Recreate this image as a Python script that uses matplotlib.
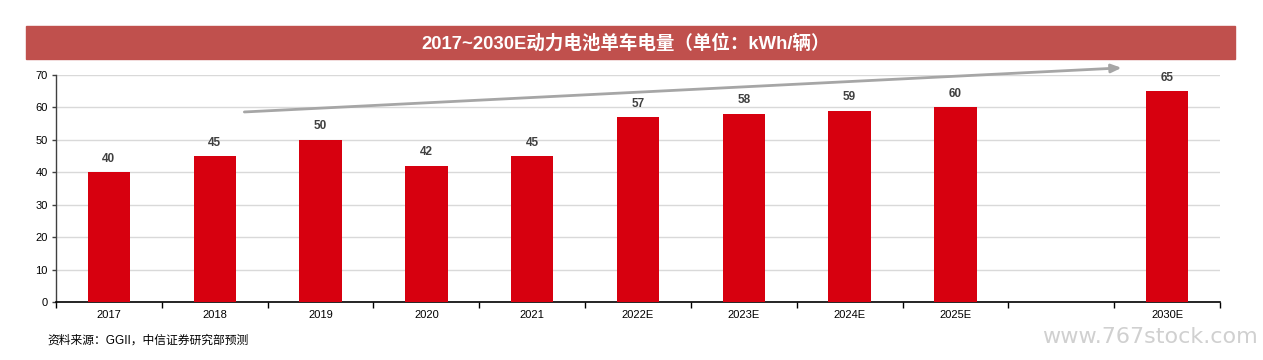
import matplotlib
matplotlib.use('Agg')
import matplotlib.pyplot as plt
from matplotlib.patches import Rectangle

plt.rcParams['font.family'] = ['Liberation Sans', 'Noto Sans CJK SC', 'DejaVu Sans']

# data, with an empty slot between 2025E and 2030E
years = ['2017', '2018', '2019', '2020', '2021', '2022E', '2023E', '2024E', '2025E', '', '2030E']
kwh = [40, 45, 50, 42, 45, 57, 58, 59, 60, None, 65]
yticks = [0, 10, 20, 30, 40, 50, 60, 70]

title = '2017~2030E动力电池单车电量（单位：kWh/辆）'
source = '资料来源：GGII，中信证券研究部预测'

bar_color = '#D7000F'
banner_color = '#C0504D'
arrow_color = '#A6A6A6'

fig = plt.figure(figsize=(12.63, 3.6), dpi=100)
ax = fig.add_axes([56 / 1263, 58 / 360, 1164 / 1263, 227 / 360])

xs = list(range(len(years)))
for x, v in zip(xs, kwh):
    if v is None:
        continue
    ax.bar(x, v, width=0.4, color=bar_color, zorder=3)
    ax.text(x, v + 2.3, str(v), ha='center', va='bottom', fontsize=8.5,
            fontweight='bold', color='#404040', zorder=4)

ax.set_xlim(-0.5, len(years) - 0.5)
ax.set_ylim(0, 70)
ax.set_yticks(yticks)
ax.set_yticklabels([str(t) for t in yticks], fontsize=8, color='#000000')
ax.set_xticks(xs)
ax.set_xticklabels(years, fontsize=8, color='#000000')
ax.tick_params(axis='x', length=0, pad=6)
ax.set_xticks([i - 0.5 for i in range(len(years) + 1)], minor=True)
ax.tick_params(axis='x', which='minor', length=4, width=1, color='#000000', direction='out')
ax.tick_params(axis='y', length=3, width=1, color='#404040', pad=3)

ax.grid(axis='y', color='#D9D9D9', linewidth=1, zorder=0)
for s in ['top', 'right']:
    ax.spines[s].set_visible(False)
ax.spines['left'].set_color('#404040')
ax.spines['left'].set_linewidth(1)
ax.spines['bottom'].set_color('#000000')
ax.spines['bottom'].set_linewidth(1.2)

# trend arrow
ax.annotate('', xy=(9.57, 72.2), xytext=(1.28, 58.6), annotation_clip=False,
            arrowprops=dict(arrowstyle='-|>,head_length=0.6,head_width=0.25',
                            color=arrow_color, lw=2, shrinkA=0, shrinkB=0))

# title banner
fig.patches.append(Rectangle((26 / 1263, 1 - 59 / 360), 1209 / 1263, 33 / 360,
                             transform=fig.transFigure, color=banner_color, zorder=0))
fig.text(626 / 1263, 1 - 43 / 360, title, ha='center', va='center', fontsize=13.3,
         fontweight='bold', color='white')

fig.text(47 / 1263, 1 - 341 / 360, source, ha='left', va='center', fontsize=8.5,
         color='#000000')
fig.text(1258 / 1263, 1 - 337 / 360, 'www.767stock.com', ha='right', va='center',
         fontsize=16, color='#D0D0D0', family=['DejaVu Sans'])

fig.savefig('out.png', dpi=100)
